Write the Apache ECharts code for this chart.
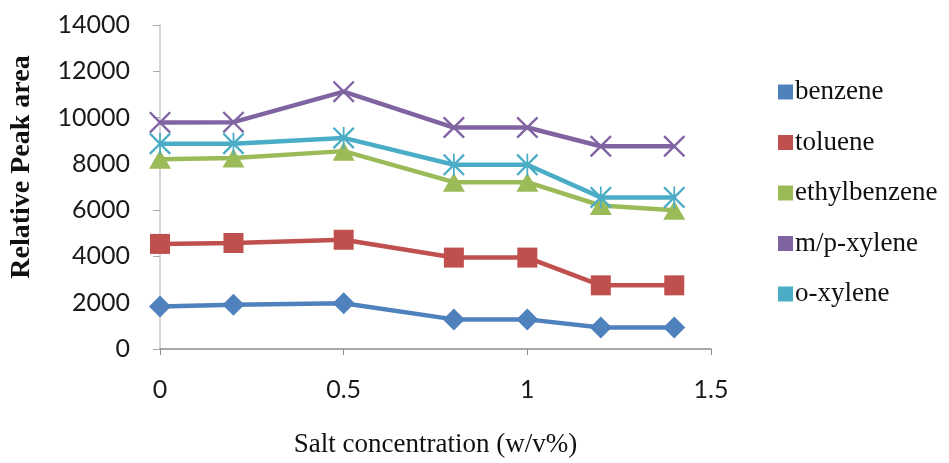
<!DOCTYPE html>
<html><head><meta charset="utf-8">
<script src="https://cdn.jsdelivr.net/npm/echarts@6/dist/echarts.min.js"></script>
<style>html,body{margin:0;padding:0;background:#fff}#c{width:949px;height:463px}</style>
</head><body><div id="c"></div>
<script>
const xValues = [0, 0.2, 0.5, 0.8, 1.0, 1.2, 1.4];
const benzene = [1840, 1910, 1980, 1280, 1280, 930, 930];
const toluene = [4540, 4580, 4720, 3950, 3950, 2750, 2750];
const ethylbenzene = [8200, 8250, 8550, 7210, 7210, 6200, 6000];
const mpXylene = [9790, 9800, 11120, 9570, 9570, 8760, 8760];
const oXylene = [8870, 8870, 9120, 7960, 7960, 6550, 6550];
const seriesNames = ['benzene', 'toluene', 'ethylbenzene', 'm/p-xylene', 'o-xylene'];
const colors = ['#4F81BD', '#C0504D', '#9BBB59', '#8064A2', '#4BACC6'];

const xPath = 'path://M0,1.5L1.5,0L10,8.5L18.5,0L20,1.5L11.5,10L20,18.5L18.5,20L10,11.5L1.5,20L0,18.5L8.5,10Z';
const starPath = 'path://M0,1.5L1.5,0L10,8.5L18.5,0L20,1.5L11.5,10L20,18.5L18.5,20L10,11.5L1.5,20L0,18.5L8.5,10Z M9.2,0L10.8,0L10.8,20L9.2,20Z';
const symbols = ['diamond', 'rect', 'triangle', xPath, starPath];
const sizes = [[22, 22], [20, 20], [22, 19], [22, 22], [22, 22]];
const data = [benzene, toluene, ethylbenzene, mpXylene, oXylene];

const chart = echarts.init(document.getElementById('c'));
chart.setOption({
  animation: false,
  backgroundColor: '#fff',
  grid: { left: 150, right: 238, top: 25, bottom: 106, containLabel: false },
  legend: {
    orient: 'vertical', left: 773, top: 72,
    itemWidth: 15, itemHeight: 15, itemGap: 20.5,
    icon: 'rect',
    textStyle: { fontFamily: 'Liberation Serif', fontSize: 27, color: '#111', lineHeight: 30, padding: [0, 0, 0, -3] },
    data: seriesNames.map((n, i) => ({ name: n, itemStyle: { color: colors[i] } }))
  },
  xAxis: {
    type: 'value', min: 0, max: 1.5, interval: 0.5,
    name: 'Salt concentration (w/v%)', nameLocation: 'middle', nameGap: 82,
    nameTextStyle: { fontFamily: 'Liberation Serif', fontSize: 27, color: '#111' },
    axisLine: { show: true, lineStyle: { color: '#8c8c8c', width: 1.5 } },
    axisTick: { show: true, length: 6, lineStyle: { color: '#8c8c8c' } },
    splitLine: { show: false },
    axisLabel: { margin: 28, fontFamily: 'Lato', fontSize: 25, color: '#1a1a1a' }
  },
  yAxis: {
    type: 'value', min: 0, max: 14000, interval: 2000,
    name: 'Relative Peak area', nameLocation: 'middle', nameGap: 124,
    nameTextStyle: { fontFamily: 'Liberation Serif', fontWeight: 'bold', fontSize: 28, color: '#111', padding: [0, 0, 0, 40] },
    axisLine: { show: true, lineStyle: { color: '#c8c8c8', width: 1.5 } },
    axisTick: { show: true, length: 7, lineStyle: { color: '#aaaaaa' } },
    splitLine: { show: false },
    axisLabel: { margin: 30, fontFamily: 'Lato', fontSize: 25, color: '#1a1a1a', formatter: v => String(v) }
  },
  series: seriesNames.map((n, i) => ({
    name: n, type: 'line',
    data: xValues.map((x, j) => [x, data[i][j]]),
    symbol: symbols[i], symbolSize: sizes[i],
    showAllSymbol: true,
    lineStyle: { color: colors[i], width: 4.5 },
    itemStyle: { color: colors[i], borderWidth: 0 },
    z: 2 + i
  }))
});
</script></body></html>
